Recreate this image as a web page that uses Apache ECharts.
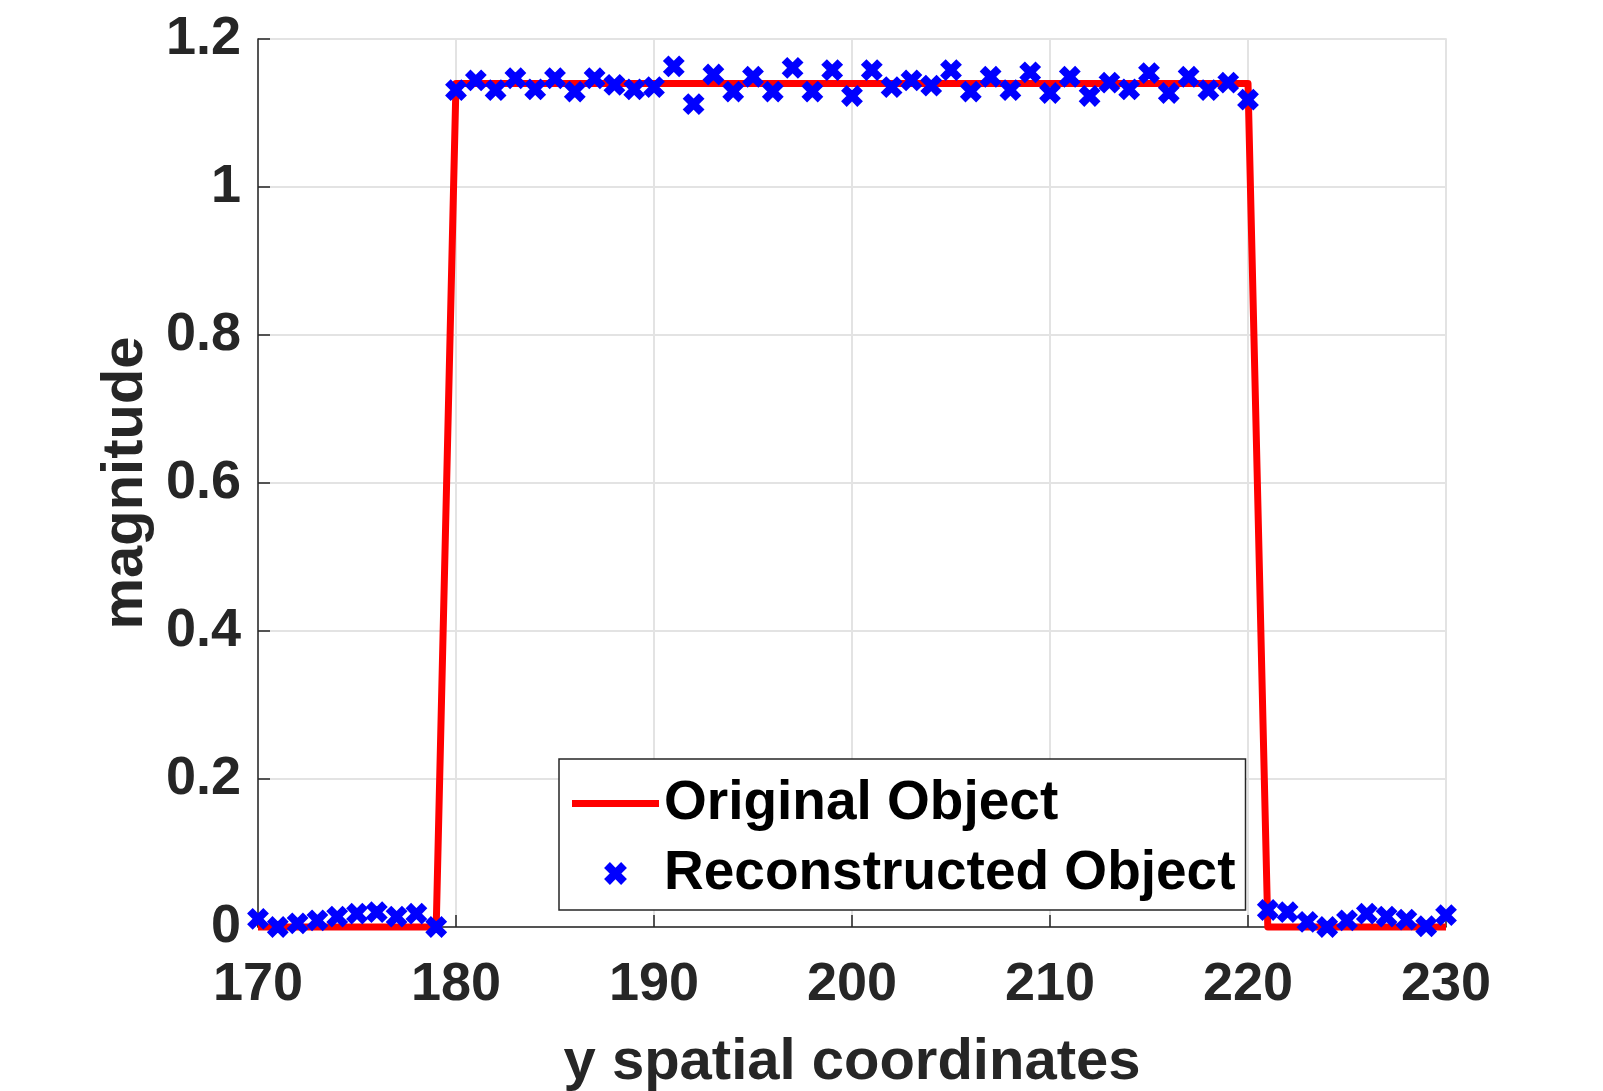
<!DOCTYPE html>
<html>
<head>
<meta charset="utf-8">
<script src="https://cdn.jsdelivr.net/npm/echarts@6/dist/echarts.min.js"></script>
<style>
  html, body { margin: 0; padding: 0; background: #fff; }
  #chart { width: 1603px; height: 1091px; }
</style>
</head>
<body>
<div id="chart"></div>
<script>
// x ticks and y ticks
var xTicks = [170, 180, 190, 200, 210, 220, 230];
var yTicks = [0, 0.2, 0.4, 0.6, 0.8, 1, 1.2];

// original object (step profile)
var origX = [170, 179, 180, 220, 221, 230];
var origY = [0, 0, 1.14, 1.14, 0, 0];

// reconstructed object samples
var reconX = [170, 171, 172, 173, 174, 175, 176, 177, 178, 179,
              180, 181, 182, 183, 184, 185, 186, 187, 188, 189,
              190, 191, 192, 193, 194, 195, 196, 197, 198, 199,
              200, 201, 202, 203, 204, 205, 206, 207, 208, 209,
              210, 211, 212, 213, 214, 215, 216, 217, 218, 219,
              220, 221, 222, 223, 224, 225, 226, 227, 228, 229, 230];
var reconY = [0.011, 0.000, 0.005, 0.009, 0.014, 0.018, 0.020, 0.014, 0.018, 0.000,
              1.131, 1.144, 1.131, 1.147, 1.132, 1.147, 1.129, 1.147, 1.138, 1.132,
              1.135, 1.163, 1.112, 1.152, 1.129, 1.149, 1.129, 1.161, 1.129, 1.158,
              1.123, 1.158, 1.135, 1.144, 1.137, 1.158, 1.129, 1.149, 1.131, 1.155,
              1.127, 1.149, 1.123, 1.141, 1.132, 1.154, 1.127, 1.149, 1.131, 1.141,
              1.118, 0.023, 0.020, 0.007, 0.000, 0.009, 0.018, 0.014, 0.010, 0.001, 0.016];

var seriesNames = ['Original Object', 'Reconstructed Object'];

var FONT = "'Liberation Sans', Arial, Helvetica, sans-serif";
var DARK = '#262626';
var xMark = 'path://M0,2.2L2.2,0L5,2.8L7.8,0L10,2.2L7.2,5L10,7.8L7.8,10L5,7.2L2.2,10L0,7.8L2.8,5Z';
var lineIcon = 'path://M0,0H87V7H0Z';   // legend sample for the red line

function pair(xs, ys) {
  var out = [];
  for (var i = 0; i < xs.length; i++) out.push([xs[i], ys[i]]);
  return out;
}

var chart = echarts.init(document.getElementById('chart'), null, {renderer: 'canvas'});

chart.setOption({
  backgroundColor: '#ffffff',
  animation: false,
  grid: {
    left: 258, top: 39, width: 1188, height: 888,
    containLabel: false, outerBoundsMode: 'none',
    show: true, borderColor: '#dcdcdc', borderWidth: 1.5
  },
  xAxis: {
    type: 'value',
    min: xTicks[0], max: xTicks[xTicks.length - 1], interval: 10,
    name: 'y spatial coordinates',
    nameLocation: 'middle', nameGap: 107,
    nameTextStyle: {fontFamily: FONT, fontWeight: 'bold', fontSize: 58, color: DARK},
    axisLine: {lineStyle: {color: DARK, width: 1.5}},
    axisTick: {inside: true, length: 12, lineStyle: {color: DARK, width: 1.5}},
    axisLabel: {fontFamily: FONT, fontWeight: 'bold', fontSize: 54, color: DARK, margin: 31},
    splitLine: {show: true, lineStyle: {color: '#e3e3e3', width: 2}}
  },
  yAxis: {
    type: 'value',
    min: yTicks[0], max: yTicks[yTicks.length - 1], interval: 0.2,
    name: 'magnitude',
    nameLocation: 'middle', nameGap: 95,
    nameTextStyle: {fontFamily: FONT, fontWeight: 'bold', fontSize: 58, color: DARK},
    axisLine: {show: true, lineStyle: {color: DARK, width: 1.5}},
    axisTick: {show: true, inside: true, length: 12, lineStyle: {color: DARK, width: 1.5}},
    axisLabel: {fontFamily: FONT, fontWeight: 'bold', fontSize: 54, color: DARK, margin: 17},
    splitLine: {show: true, lineStyle: {color: '#e3e3e3', width: 2}}
  },
  legend: {
    orient: 'vertical',
    left: 559, top: 759,
    padding: [17, 10, 9, 13],
    itemWidth: 87, itemHeight: 20, itemGap: 15,
    backgroundColor: '#ffffff',
    borderColor: DARK, borderWidth: 1.5,
    textStyle: {fontFamily: FONT, fontWeight: 'bold', fontSize: 55, color: '#000'},
    data: [
      {name: seriesNames[0], icon: lineIcon, itemStyle: {color: '#ff0000'}},
      {name: seriesNames[1], icon: xMark}
    ]
  },
  series: [
    {
      name: seriesNames[0],
      type: 'line',
      data: pair(origX, origY),
      showSymbol: false,
      symbol: 'none',
      clip: false,
      z: 2,
      lineStyle: {color: '#ff0000', width: 7, join: 'round'},
      itemStyle: {color: '#ff0000'}
    },
    {
      name: seriesNames[1],
      type: 'scatter',
      data: pair(reconX, reconY),
      symbol: xMark,
      symbolSize: 19,
      clip: false,
      z: 3,
      itemStyle: {color: '#0000ff', borderColor: '#0000ff', borderWidth: 2, opacity: 1}
    }
  ]
});
</script>
</body>
</html>
